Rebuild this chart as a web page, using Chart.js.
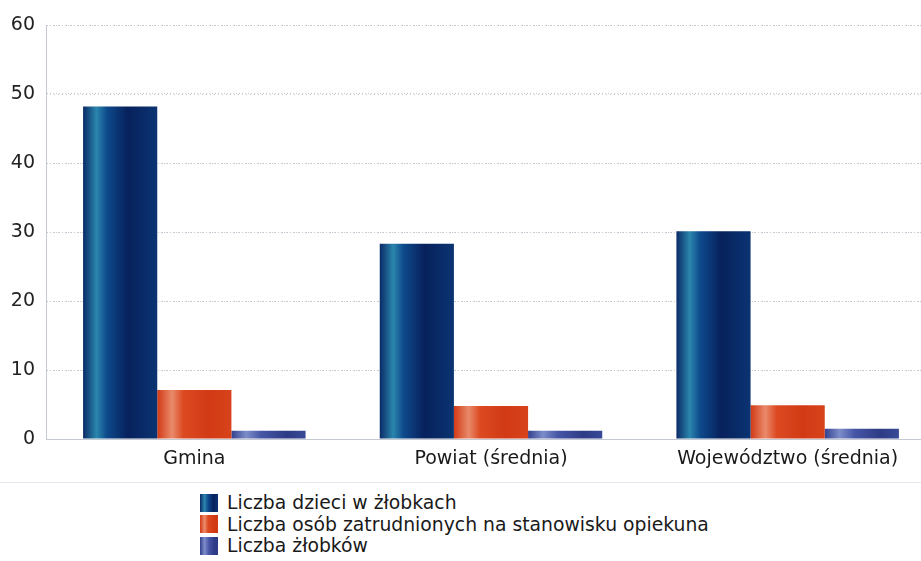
<!DOCTYPE html>
<html><head><meta charset="utf-8">
<script src="https://cdn.jsdelivr.net/npm/chart.js@4.4.0/dist/chart.umd.min.js"></script>
<style>
html,body{margin:0;padding:0;background:#fff;overflow:hidden;width:921px;height:561px;}
#wrap{position:absolute;left:0;top:0;width:936px;height:475px;}
#sep{position:absolute;left:0;top:482px;width:921px;height:0;border-top:1px solid #e3e8f0;}
#legend{position:absolute;left:200px;top:492px;font-family:"DejaVu Sans",sans-serif;font-size:18.8px;color:#1a1a1a;line-height:21.5px;}
#legend div{display:flex;align-items:center;}
#legend span.sw{display:inline-block;width:18px;height:18px;margin-right:9px;}
</style></head>
<body>
<div id="wrap"><canvas id="c" width="936" height="475"></canvas></div>
<div id="sep"></div>
<div id="legend"></div>
<script>
const categories = ["Gmina", "Powiat (średnia)", "Województwo (średnia)"];
const seriesNames = ["Liczba dzieci w żłobkach", "Liczba osób zatrudnionych na stanowisku opiekuna", "Liczba żłobków"];
const childrenValues = [48.2, 28.3, 30.1];
const staffValues = [7.1, 4.8, 4.9];
const nurseriesValues = [1.2, 1.2, 1.5];
const yTicks = [0, 10, 20, 30, 40, 50, 60];

const palettes = [
  [[0,"#0a2a66"],[0.18,"#2a86ad"],[0.32,"#0e4a8c"],[0.6,"#07215c"],[1,"#0b3472"]],
  [[0,"#d23a16"],[0.2,"#e98a6a"],[0.35,"#dc4a22"],[0.7,"#d13a14"],[1,"#d8431c"]],
  [[0,"#33418e"],[0.2,"#7d8cc8"],[0.4,"#4656a6"],[0.75,"#2e3b85"],[1,"#3a4a98"]]
];
const solid = ["#0b3070", "#d8431c", "#3a4a98"];
const catPct = 0.75;

function barGradient(ctx, di) {
  const chart = ctx.chart;
  const xs = chart.scales.x;
  if (!xs || ctx.dataIndex === undefined || !chart.chartArea) return solid[di];
  const center = xs.getPixelForValue(ctx.dataIndex);
  const catW = (xs.right - xs.left) / categories.length;
  const bw = catW * catPct / 3;
  const left = center - catW * catPct / 2 + di * bw;
  const g = chart.ctx.createLinearGradient(left, 0, left + bw, 0);
  palettes[di].forEach(s => g.addColorStop(s[0], s[1]));
  return g;
}

const valueSets = [childrenValues, staffValues, nurseriesValues];
const datasets = valueSets.map((vals, di) => ({
  label: seriesNames[di],
  data: vals,
  backgroundColor: ctx => barGradient(ctx, di),
  borderWidth: 0,
  barPercentage: 1.0,
  categoryPercentage: catPct
}));

const gridColor = "#c4c9d2";
new Chart(document.getElementById("c"), {
  type: "bar",
  data: { labels: categories, datasets },
  options: {
    responsive: false,
    animation: false,
    layout: { padding: { top: 25, left: 0, right: 0, bottom: 0 } },
    plugins: { legend: { display: false }, tooltip: { enabled: false } },
    scales: {
      x: {
        grid: { display: false, drawTicks: false },
        border: { display: true, color: gridColor, dash: [1, 2] },
        ticks: { padding: 9, color: "#1a1a1a", font: { family: "DejaVu Sans", size: 19 } },
        afterFit: s => { s.height = 36; }
      },
      y: {
        min: 0, max: 60,
        afterBuildTicks: s => { s.ticks = yTicks.map(v => ({ value: v })); },
        grid: { color: gridColor, drawTicks: false, lineWidth: 1 },
        border: { display: true, color: gridColor, dash: [1, 2] },
        ticks: { padding: 11, color: "#222", font: { family: "DejaVu Sans", size: 19 } },
        afterFit: s => { s.width = 46; }
      }
    }
  },
  plugins: [{
    id: "dottedGrid",
    beforeDatasetsDraw: chart => {
      const y = chart.scales.y, a = chart.chartArea, c = chart.ctx;
      c.save();
      c.strokeStyle = gridColor;
      c.lineWidth = 1;
      c.setLineDash([1, 3]);
      y.ticks.forEach(t => {
        if (t.value === 0) return;
        const py = Math.round(y.getPixelForValue(t.value)) + 0.5;
        c.beginPath(); c.moveTo(a.left, py); c.lineTo(a.right, py); c.stroke();
      });
      c.restore();
    }
  }]
});
</script>
<script>
const leg = document.getElementById("legend");
const cssGrad = [
  "linear-gradient(90deg,#0a2a66 0%,#2a86ad 25%,#0e4a8c 45%,#07215c 75%,#0b3472 100%)",
  "linear-gradient(90deg,#d23a16 0%,#e98a6a 25%,#dc4a22 45%,#d13a14 80%)",
  "linear-gradient(90deg,#33418e 0%,#7d8cc8 25%,#4656a6 50%,#2e3b85 80%)"
];
seriesNames.forEach((n, i) => {
  const d = document.createElement("div");
  const sw = document.createElement("span");
  sw.className = "sw";
  sw.style.background = cssGrad[i];
  d.appendChild(sw);
  d.appendChild(document.createTextNode(n));
  leg.appendChild(d);
});
</script>
</body></html>
